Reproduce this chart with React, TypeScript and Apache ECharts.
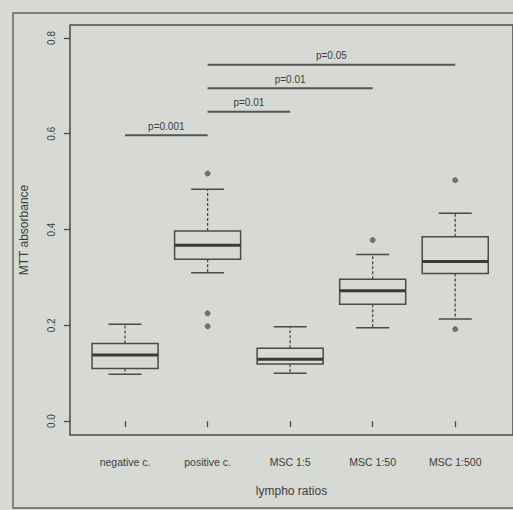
import React, { useEffect, useRef } from "react";
import * as echarts from "echarts";

// Groups on the x axis (positions 1..5)
const categories = ["negative c.", "positive c.", "MSC 1:5", "MSC 1:50", "MSC 1:500"];

// Box statistics per group
const whiskerLow = [0.098, 0.31, 0.1, 0.195, 0.213];
const quartile1 = [0.11, 0.338, 0.119, 0.244, 0.308];
const medians = [0.138, 0.367, 0.129, 0.272, 0.333];
const quartile3 = [0.162, 0.397, 0.152, 0.296, 0.385];
const whiskerHigh = [0.202, 0.484, 0.197, 0.348, 0.434];

// Outlying observations (group index, value)
const outlierGroup = [1, 1, 1, 3, 4, 4];
const outlierValue = [0.517, 0.225, 0.198, 0.378, 0.503, 0.192];

// Pairwise comparisons drawn as bars above the boxes
const comparisonFrom = [0, 1, 1, 1];
const comparisonTo = [1, 2, 3, 4];
const comparisonLevel = [0.597, 0.646, 0.695, 0.744];
const comparisonLabel = ["p=0.001", "p=0.01", "p=0.01", "p=0.05"];

const yTicks = [0, 0.2, 0.4, 0.6, 0.8];
const xTicks = [1, 2, 3, 4, 5];

const INK = "#4a4a4a";
const TEXT = "#3c3c3c";
const FONT = "'Liberation Sans', Arial, sans-serif";

export default function App() {
  const ref = useRef<HTMLDivElement>(null);

  useEffect(() => {
    if (!ref.current) return;
    const chart = echarts.init(ref.current, null, { renderer: "svg" });

    const boxData = categories.map((_, i) => [
      i + 1,
      whiskerLow[i],
      quartile1[i],
      medians[i],
      quartile3[i],
      whiskerHigh[i],
    ]);
    const outlierData = outlierGroup.map((g, i) => [g + 1, outlierValue[i]]);
    const bracketData = comparisonFrom.map((f, i) => [
      f + 1,
      comparisonTo[i] + 1,
      comparisonLevel[i],
    ]);

    chart.setOption({
      animation: false,
      backgroundColor: "transparent",
      textStyle: { fontFamily: FONT },
      graphic: [
        {
          type: "rect",
          shape: { x: 13, y: 13, width: 530, height: 495 },
          style: { fill: "none", stroke: "#5f5f5f", lineWidth: 1.4 },
          silent: true,
          z: -1,
        },
      ],
      grid: {
        show: true,
        left: 70,
        top: 25,
        width: 451,
        height: 410,
        borderColor: INK,
        borderWidth: 1.5,
        backgroundColor: "transparent",
      },
      xAxis: {
        type: "value",
        min: 0.333,
        max: 5.7,
        name: "lympho ratios",
        nameLocation: "middle",
        nameGap: 50,
        nameTextStyle: { fontSize: 12, color: TEXT, fontFamily: FONT },
        axisLine: { show: false },
        splitLine: { show: false },
        axisTick: {
          show: true,
          customValues: xTicks,
          length: 6,
          lineStyle: { color: INK, width: 1.3 },
        },
        axisLabel: {
          customValues: xTicks,
          margin: 21,
          fontSize: 10.5,
          color: TEXT,
          fontFamily: FONT,
          formatter: (v: number) => categories[Math.round(v) - 1] ?? "",
        },
      },
      yAxis: {
        type: "value",
        min: -0.029,
        max: 0.827,
        name: "MTT absorbance",
        nameLocation: "middle",
        nameGap: 40,
        nameRotate: 90,
        nameTextStyle: { fontSize: 12, color: TEXT, fontFamily: FONT },
        axisLine: { show: false },
        splitLine: { show: false },
        axisTick: {
          show: true,
          customValues: yTicks,
          length: 6,
          lineStyle: { color: INK, width: 1.3 },
        },
        axisLabel: {
          customValues: yTicks,
          rotate: 90,
          margin: 14,
          fontSize: 10,
          color: TEXT,
          fontFamily: FONT,
          formatter: (v: number) => v.toFixed(1),
        },
      },
      series: [
        {
          type: "custom",
          name: "boxes",
          data: boxData,
          encode: { x: 0, y: [1, 2, 3, 4, 5] },
          renderItem: (params: any, api: any) => {
            const x = api.value(0);
            const half = api.size([0.4, 0])[0];
            const staple = half / 2;
            const [cx, yLow] = api.coord([x, api.value(1)]);
            const yQ1 = api.coord([x, api.value(2)])[1];
            const yMed = api.coord([x, api.value(3)])[1];
            const yQ3 = api.coord([x, api.value(4)])[1];
            const yHigh = api.coord([x, api.value(5)])[1];
            const solid = { stroke: INK, lineWidth: 1.5, fill: "none" };
            const dashed = { stroke: INK, lineWidth: 1.3, lineDash: [3, 2] };
            return {
              type: "group",
              children: [
                {
                  type: "line",
                  shape: { x1: cx, y1: yQ3, x2: cx, y2: yHigh },
                  style: dashed,
                },
                {
                  type: "line",
                  shape: { x1: cx, y1: yQ1, x2: cx, y2: yLow },
                  style: dashed,
                },
                {
                  type: "line",
                  shape: { x1: cx - staple, y1: yHigh, x2: cx + staple, y2: yHigh },
                  style: solid,
                },
                {
                  type: "line",
                  shape: { x1: cx - staple, y1: yLow, x2: cx + staple, y2: yLow },
                  style: solid,
                },
                {
                  type: "rect",
                  shape: { x: cx - half, y: yQ3, width: half * 2, height: yQ1 - yQ3 },
                  style: solid,
                },
                {
                  type: "line",
                  shape: { x1: cx - half, y1: yMed, x2: cx + half, y2: yMed },
                  style: { stroke: "#3a3a3a", lineWidth: 3 },
                },
              ],
            };
          },
        },
        {
          type: "scatter",
          name: "outliers",
          data: outlierData,
          symbol: "circle",
          symbolSize: 5,
          itemStyle: { color: "#5a5a5a", borderColor: "#4a4a4a", borderWidth: 0.8 },
        },
        {
          type: "custom",
          name: "comparisons",
          data: bracketData,
          encode: { x: [0, 1], y: 2 },
          renderItem: (params: any, api: any) => {
            const p1 = api.coord([api.value(0), api.value(2)]);
            const p2 = api.coord([api.value(1), api.value(2)]);
            return {
              type: "group",
              children: [
                {
                  type: "line",
                  shape: { x1: p1[0], y1: p1[1], x2: p2[0], y2: p2[1] },
                  style: { stroke: "#555555", lineWidth: 2 },
                },
                {
                  type: "text",
                  style: {
                    text: comparisonLabel[params.dataIndex],
                    x: (p1[0] + p2[0]) / 2,
                    y: p1[1] - 4,
                    align: "center",
                    verticalAlign: "bottom",
                    fontSize: 10,
                    fontFamily: FONT,
                    fill: TEXT,
                  },
                },
              ],
            };
          },
        },
      ],
    });

    return () => chart.dispose();
  }, []);

  return (
    <div
      style={{
        position: "fixed",
        left: 0,
        top: 0,
        width: 513,
        height: 510,
        background: "#d6d9d4",
        overflow: "hidden",
      }}
    >
      <div ref={ref} style={{ width: 513, height: 510 }} />
    </div>
  );
}
